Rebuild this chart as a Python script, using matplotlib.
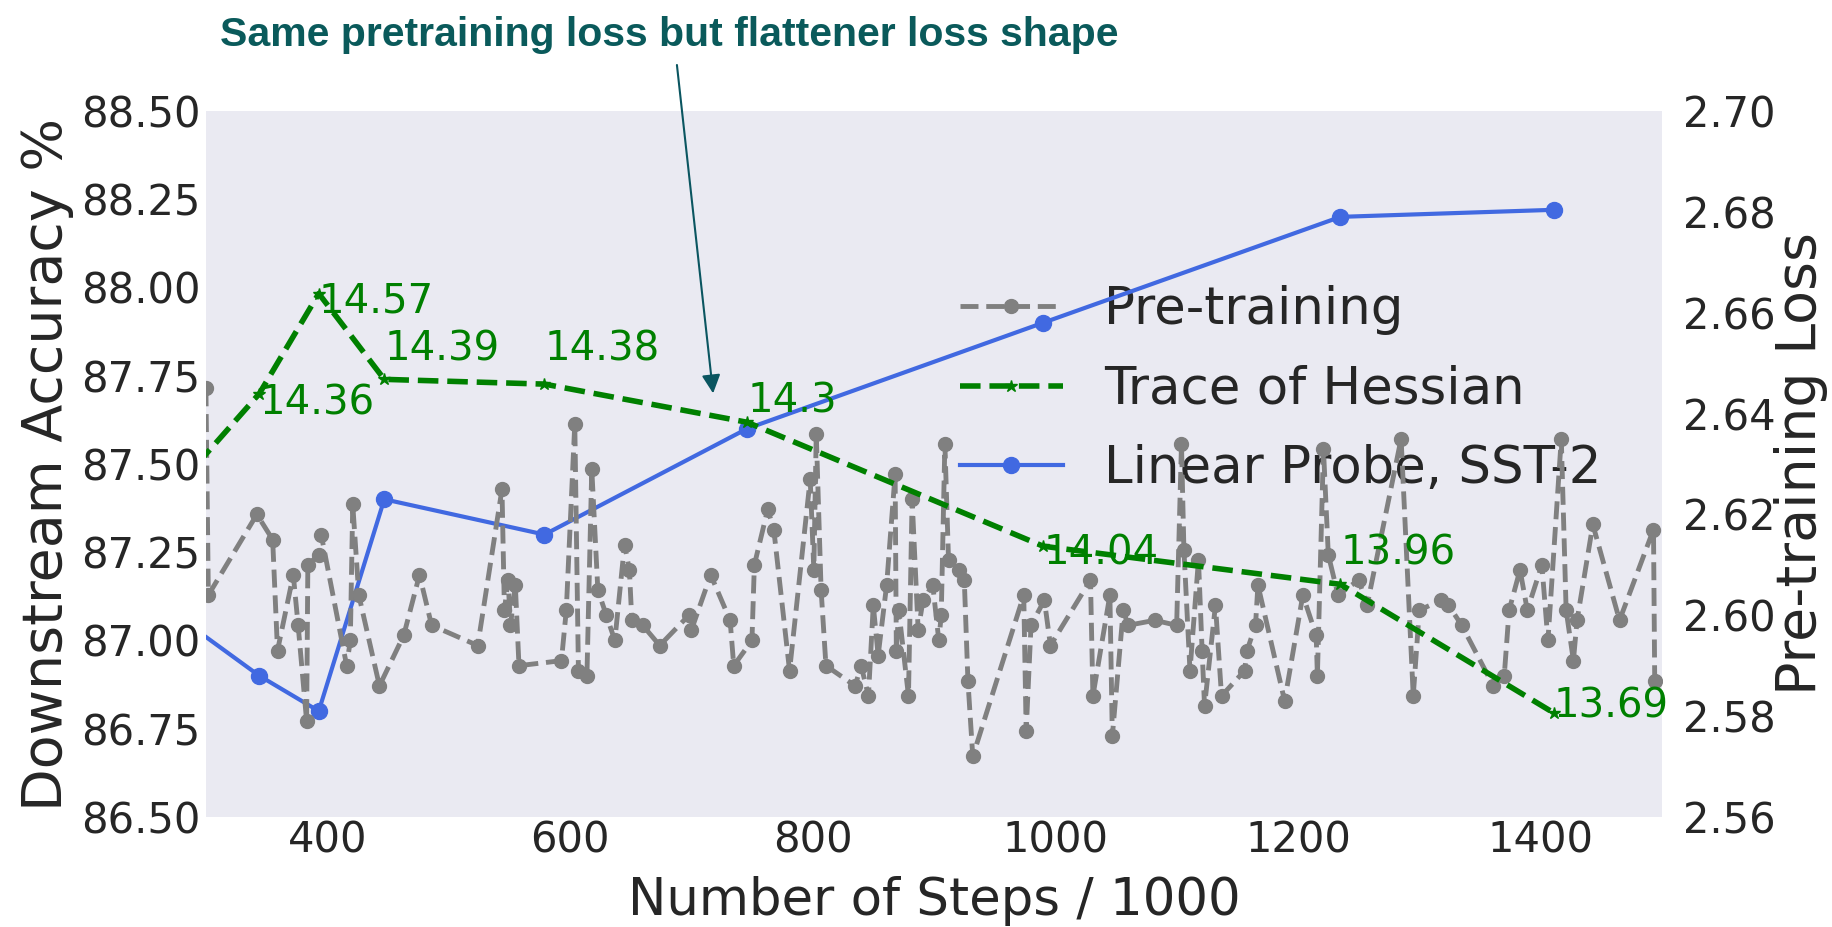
import matplotlib
matplotlib.use('Agg')
import matplotlib.pyplot as plt
from matplotlib import font_manager
from matplotlib.ticker import FormatStrFormatter

# pre-training loss at each saved checkpoint (steps / 1000)
pretrain_steps = [300, 302, 342, 355, 359, 372, 376, 383, 384, 393, 395, 416, 419, 421, 426,
                  443, 463, 476, 486, 524, 544, 546, 549, 551, 555, 558, 593, 597, 604, 607,
                  614, 618, 623, 630, 637, 645, 649, 651, 660, 674, 698, 700, 716, 732, 735,
                  750, 752, 763, 768, 781, 798, 801, 803, 807, 811, 835, 840, 846, 850, 854,
                  861, 868, 869, 871, 879, 882, 887, 891, 899, 904, 906, 909, 912, 921, 925,
                  928, 932, 974, 976, 980, 991, 996, 1029, 1031, 1045, 1047, 1056, 1060, 1082,
                  1100, 1104, 1106, 1111, 1118, 1121, 1123, 1132, 1137, 1156, 1158, 1165, 1167,
                  1189, 1204, 1215, 1216, 1221, 1225, 1233, 1250, 1257, 1285, 1295, 1300, 1318,
                  1324, 1335, 1361, 1370, 1374, 1383, 1389, 1401, 1406, 1417, 1421, 1427, 1430,
                  1443, 1465, 1493, 1494]
pretrain_loss = [2.645, 2.604, 2.620, 2.615, 2.593, 2.608, 2.598, 2.579, 2.610, 2.612, 2.616,
                 2.590, 2.595, 2.622, 2.604, 2.586, 2.596, 2.608, 2.598, 2.594, 2.625, 2.601,
                 2.607, 2.598, 2.606, 2.590, 2.591, 2.601, 2.638, 2.589, 2.588, 2.629, 2.605,
                 2.600, 2.595, 2.614, 2.609, 2.599, 2.598, 2.594, 2.600, 2.597, 2.608, 2.599,
                 2.590, 2.595, 2.610, 2.621, 2.617, 2.589, 2.627, 2.609, 2.636, 2.605, 2.590,
                 2.586, 2.590, 2.584, 2.602, 2.592, 2.606, 2.628, 2.593, 2.601, 2.584, 2.623,
                 2.597, 2.603, 2.606, 2.595, 2.600, 2.634, 2.611, 2.609, 2.607, 2.587, 2.572,
                 2.604, 2.577, 2.598, 2.603, 2.594, 2.607, 2.584, 2.604, 2.576, 2.601, 2.598,
                 2.599, 2.598, 2.634, 2.613, 2.589, 2.611, 2.593, 2.582, 2.602, 2.584, 2.589,
                 2.593, 2.598, 2.606, 2.583, 2.604, 2.596, 2.588, 2.633, 2.612, 2.604, 2.607,
                 2.602, 2.635, 2.584, 2.601, 2.603, 2.602, 2.598, 2.586, 2.588, 2.601, 2.609,
                 2.601, 2.610, 2.595, 2.635, 2.601, 2.591, 2.599, 2.618, 2.599, 2.617, 2.587]

# checkpoints used for the linear probe and the hessian trace
probe_steps = [292, 344, 393, 447, 579, 746, 990, 1235, 1411]
probe_acc = [87.03, 86.90, 86.80, 87.40, 87.30, 87.60, 87.90, 88.20, 88.22]
hessian_trace = [14.21, 14.36, 14.57, 14.39, 14.38, 14.30, 14.04, 13.96, 13.69]

acc_ticks = [86.5, 86.75, 87.0, 87.25, 87.5, 87.75, 88.0, 88.25, 88.5]
loss_ticks = [2.56, 2.58, 2.60, 2.62, 2.64, 2.66, 2.68, 2.70]
step_ticks = [400, 600, 800, 1000, 1200, 1400]

# vertical nudge (pixels) of each hessian value label
label_dy = [0, -21, -19, 19, 24, 10, -18, 20, -4]

text_col = '#262626'
bg = '#EAEAF2'

names = {f.name for f in font_manager.fontManager.ttflist}
if 'Liberation Sans Narrow' in names:
    title_family, title_size = 'Liberation Sans Narrow', 35
else:
    title_family, title_size = 'Liberation Sans', 29.5

fig = plt.figure(figsize=(18.32, 9.27), dpi=100)
ax1 = fig.add_axes([0.1124, 0.1187, 0.7948, 0.7616])
ax1.set_facecolor(bg)
ax2 = ax1.twinx()
ax3 = ax1.twinx()
for a in (ax1, ax2, ax3):
    for s in a.spines.values():
        s.set_visible(False)

ln_probe, = ax1.plot(probe_steps, probe_acc, color='royalblue', lw=3,
                     marker='o', ms=11.5, label='Linear Probe, SST-2')
ln_pre, = ax2.plot(pretrain_steps, pretrain_loss, color='gray', ls='--', lw=3.5,
                   marker='o', ms=10, label='Pre-training')
ln_hess, = ax3.plot(probe_steps, hessian_trace, color='green', ls='--', lw=4,
                    marker='*', ms=9, label='Trace of Hessian')

for i, (s, h) in enumerate(zip(probe_steps, hessian_trace)):
    ax3.annotate(f'{h:g}', xy=(s, h), xytext=(0, label_dy[i]), textcoords='offset pixels',
                 color='green', fontsize=29, ha='left', va='baseline')

ax1.set_xlim(300, 1500)
ax1.set_ylim(86.5, 88.5)
ax2.set_ylim(2.56, 2.70)
ax3.set_ylim(13.472, 14.953)
ax3.yaxis.set_visible(False)

ax1.set_xticks(step_ticks)
ax1.set_yticks(acc_ticks)
ax2.set_yticks(loss_ticks)
ax1.yaxis.set_major_formatter(FormatStrFormatter('%.2f'))
ax2.yaxis.set_major_formatter(FormatStrFormatter('%.2f'))
ax1.tick_params(axis='x', length=0, pad=2, labelsize=30, labelcolor=text_col)
ax1.tick_params(axis='y', length=0, pad=4, labelsize=30, labelcolor=text_col)
ax2.tick_params(axis='y', length=0, pad=15, labelsize=30, labelcolor=text_col)

ax1.set_xlabel('Number of Steps / 1000', fontsize=37, color=text_col, labelpad=10)
ax1.set_ylabel('Downstream Accuracy %', fontsize=40, color=text_col)
ax1.yaxis.set_label_coords(-0.0907, 0.5)
ax2.set_ylabel('Pre-training Loss', fontsize=40, color=text_col)
ax2.yaxis.set_label_coords(1.077, 0.5)

leg = ax1.legend([ln_pre, ln_hess, ln_probe],
                 [ln_pre.get_label(), ln_hess.get_label(), ln_probe.get_label()],
                 loc='upper right', bbox_to_anchor=(0.990, 0.8187), fontsize=37,
                 labelspacing=0.57, frameon=False)
for t in leg.get_texts():
    t.set_color(text_col)
leg.set_zorder(1)

fig.text(0.3655, 0.962, 'Same pretraining loss but flattener loss shape', ha='center', va='center',
         fontsize=title_size, fontweight='bold', color='#0A5A5B', family=title_family)
ax1.annotate('', xy=(718, 87.70), xycoords='data', xytext=(0.3695, 0.9299),
             textcoords='figure fraction',
             arrowprops=dict(arrowstyle='-|>', color='#0A5560', lw=1.5, mutation_scale=28,
                             shrinkA=0, shrinkB=0))

fig.savefig('out.png', dpi=100)
